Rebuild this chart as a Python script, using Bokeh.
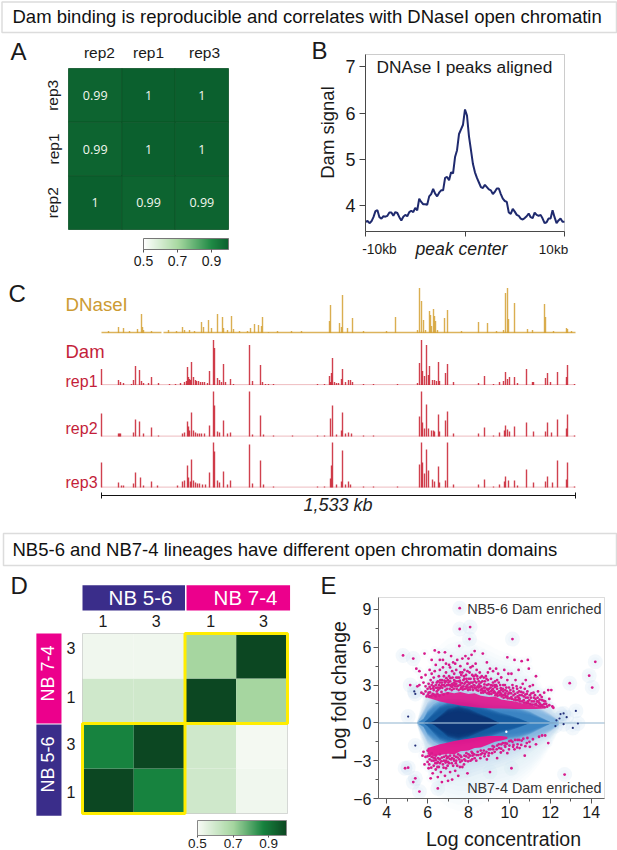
from bokeh.plotting import figure
from bokeh.layouts import column, row
from bokeh.models import (Label, BoxAnnotation, ColorBar, LinearColorMapper, FixedTicker,
                          Range1d, ColumnDataSource)
from bokeh.core.properties import value
from bokeh.embed import file_html
from bokeh.resources import INLINE

FONT = "Liberation Sans"

# ---------- texts ----------
title_top = "Dam binding is reproducible and correlates with DNaseI open chromatin"
title_bottom = "NB5-6 and NB7-4 lineages have different open chromatin domains"

# ---------- panel A ----------
a_cols = ["rep2", "rep1", "rep3"]
a_rows = ["rep2", "rep1", "rep3"]
a_rep3 = [0.99, 1, 1]
a_rep1 = [0.99, 1, 1]
a_rep2 = [1, 0.99, 0.99]
a_labels_rep3 = ["0.99", "1", "1"]
a_labels_rep1 = ["0.99", "1", "1"]
a_labels_rep2 = ["1", "0.99", "0.99"]

# ---------- panel B ----------
b_x = [-10, -9.8, -9.6, -9.4, -9.2, -9, -8.8, -8.6, -8.4, -8.2, -8, -7.8, -7.6, -7.4, -7.2, -7, -6.8, -6.6, -6.4, -6.2,
       -6, -5.8, -5.6, -5.4, -5.2, -5, -4.8, -4.6, -4.4, -4.2, -4, -3.8, -3.6, -3.4, -3.2, -3, -2.8, -2.6, -2.4, -2.2,
       -2, -1.8, -1.6, -1.4, -1.2, -1, -0.8, -0.6, -0.4, -0.2, 0, 0.2, 0.4, 0.6, 0.8, 1, 1.2, 1.4, 1.6, 1.8,
       2, 2.2, 2.4, 2.6, 2.8, 3, 3.2, 3.4, 3.6, 3.8, 4, 4.2, 4.4, 4.6, 4.8, 5, 5.2, 5.4, 5.6, 5.8,
       6, 6.2, 6.4, 6.6, 6.8, 7, 7.2, 7.4, 7.6, 7.8, 8, 8.2, 8.4, 8.6, 8.8, 9, 9.2, 9.4, 9.6, 9.8, 10]
b_y = [3.65, 3.67, 3.62, 3.66, 3.75, 3.88, 3.9, 3.75, 3.72, 3.77, 3.76, 3.78, 3.85, 3.85, 3.78, 3.86, 3.84, 3.75, 3.68, 3.76,
       3.8, 3.77, 3.86, 3.89, 3.86, 3.95, 3.9, 4.15, 4.08, 4.03, 4.03, 4.02, 4.2, 4.25, 4.36, 4.26, 4.2, 4.28, 4.33, 4.33,
       4.6, 4.62, 4.55, 4.72, 4.7, 5.05, 5.2, 5.55, 5.65, 5.75, 6.08, 5.95, 5.5, 5.2, 4.9, 4.72, 4.6, 4.5, 4.4, 4.38,
       4.45, 4.4, 4.35, 4.33, 4.25, 4.3, 4.37, 4.37, 4.25, 4.15, 4.1, 4.08, 3.85, 3.82, 3.93, 3.87, 3.8, 3.78, 3.72, 3.7,
       3.73, 3.77, 3.83, 3.75, 3.73, 3.85, 3.8, 3.78, 3.8, 3.72, 3.62, 3.64, 3.72, 3.72, 3.9, 3.75, 3.62, 3.68, 3.72, 3.65, 3.65]
b_yticks = [4, 5, 6, 7]
b_xticks = [-10, 0, 10]

# ---------- panel C: bin position along the 1,533 kb locus, signal height ----------
c_dnase_pos = [7, 17, 22, 28, 36, 40, 41, 42, 50, 67, 75, 81, 83, 88, 93, 100, 102, 107, 110, 116, 121, 122, 126, 130, 132, 138, 146, 149, 153, 157, 160, 161, 167, 176, 190, 200,
               228, 229, 238, 240, 241, 246, 251, 262, 285, 294, 316, 318, 320, 322, 324, 328, 329, 330, 332, 333, 334, 336, 343, 346, 360, 377, 386, 395,
               402, 404, 406, 407, 413, 426, 431, 443, 444, 452, 465, 466, 470]
c_dnase_h = [2, 6, 5, 2, 4, 19, 6, 3, 2, 3, 2, 6, 3, 3, 2, 11, 6, 13, 5, 19, 16, 5, 3, 17, 4, 2, 2, 5, 9, 8, 7, 16, 1, 2, 2, 2,
             12, 28, 10, 6, 38, 5, 15, 2, 2, 16, 3, 45, 32, 13, 3, 22, 18, 7, 24, 17, 12, 3, 15, 23, 2, 11, 10, 2,
             3, 40, 45, 14, 30, 4, 3, 29, 16, 2, 5, 4, 2]
c_rep1_pos = [0, 17, 19, 22, 30, 32, 34, 38, 40, 42, 47, 50, 57, 68, 74, 79, 83, 85, 86, 87, 88, 89, 90, 92, 94, 95, 97, 99, 101, 103, 106, 108, 112, 113, 116, 118, 120, 122, 124, 129, 132, 148, 151, 159, 161, 164, 167, 172,
              216, 223, 228, 229, 230, 231, 233, 235, 237, 240, 241, 244, 247, 249, 251, 262, 272, 296, 316, 318, 320, 321, 323, 325, 327, 328, 331, 333, 335, 337, 338, 344, 346, 352, 377, 383, 392, 398, 402, 404, 406, 408, 413, 416, 425, 431, 432, 444, 446, 449, 456, 465, 466, 473]
c_rep1_h = [16, 5, 3, 2, 1, 5, 19, 15, 4, 2, 2, 8, 2, 1, 1, 2, 3, 4, 18, 8, 6, 5, 23, 8, 5, 4, 4, 3, 3, 3, 2, 14, 45, 37, 7, 5, 3, 21, 3, 6, 1, 40, 4, 20, 3, 1, 1, 1,
            1, 1, 9, 3, 12, 27, 3, 2, 2, 6, 16, 3, 5, 5, 3, 1, 1, 1, 2, 22, 45, 14, 9, 40, 10, 19, 5, 5, 4, 23, 4, 12, 21, 3, 2, 9, 1, 3, 4, 13, 6, 8, 8, 2, 16, 3, 3, 7, 12, 3, 13, 8, 20, 1]
c_rep2_pos = [0, 17, 18, 19, 32, 34, 38, 42, 50, 57, 81, 83, 86, 87, 88, 90, 92, 94, 96, 98, 100, 103, 108, 112, 113, 116, 118, 122, 126, 129, 148, 151, 159, 162, 172, 191,
              216, 223, 229, 231, 235, 240, 241, 244, 247, 250, 262, 272, 318, 320, 321, 323, 325, 327, 330, 332, 333, 337, 338, 344, 346, 352, 377, 383, 392, 398, 403, 404, 406, 408, 413, 425, 432, 444, 446, 450, 456, 465, 466, 473]
c_rep2_h = [23, 3, 3, 3, 4, 17, 15, 3, 9, 1, 3, 4, 15, 10, 6, 24, 6, 4, 3, 3, 3, 3, 11, 45, 31, 5, 4, 16, 3, 4, 45, 2, 21, 2, 1, 1,
            1, 1, 18, 31, 2, 6, 24, 3, 4, 3, 1, 1, 20, 45, 14, 8, 32, 8, 6, 6, 5, 22, 5, 16, 25, 3, 3, 9, 1, 4, 6, 11, 7, 5, 10, 14, 5, 5, 14, 4, 17, 8, 22, 1]
c_rep3_pos = [0, 17, 20, 22, 32, 34, 39, 42, 50, 56, 76, 81, 83, 86, 87, 89, 90, 92, 94, 96, 98, 101, 104, 108, 112, 113, 116, 118, 122, 126, 129, 148, 151, 159, 162, 172,
              216, 223, 229, 230, 231, 235, 240, 241, 244, 247, 249, 262, 272, 296, 318, 320, 321, 323, 325, 327, 331, 333, 337, 338, 344, 346, 352, 377, 383, 392, 398, 403, 404, 407, 413, 416, 425, 432, 444, 446, 451, 456, 465, 466, 473]
c_rep3_h = [25, 5, 2, 2, 4, 15, 10, 2, 6, 2, 2, 6, 7, 22, 10, 6, 28, 7, 5, 4, 4, 3, 3, 15, 45, 36, 7, 5, 16, 3, 7, 43, 4, 27, 3, 1,
            1, 1, 9, 22, 45, 3, 6, 37, 3, 6, 3, 1, 1, 1, 23, 45, 25, 14, 38, 17, 8, 6, 21, 5, 7, 45, 3, 3, 8, 1, 3, 6, 11, 7, 7, 2, 18, 5, 6, 11, 5, 27, 8, 25, 1]
c_length_bins = 474
c_length_label = "1,533 kb"

# ---------- panel D ----------
d_row_1_a = [1.0, 0.87, 0.6, 0.52]    # NB 5-6 rep 1
d_row_3_a = [0.87, 1.0, 0.6, 0.51]    # NB 5-6 rep 3
d_row_1_b = [0.6, 0.6, 1.0, 0.7]      # NB 7-4 rep 1
d_row_3_b = [0.52, 0.52, 0.7, 1.0]    # NB 7-4 rep 3
d_tick_labels = ["1", "3", "1", "3"]

# ---------- panel E: points ----------
e_up = [(5.45,4.3),(5.6,4.1),(5.7,3.6),(5.8,3.2),(5.85,5.5),(5.9,2.9),(5.6,3.0),(5.7,2.4),(5.8,2.3),(5.95,2.1),(5.9,3.8),(5.5,2.9),
(6.1,4.2),(6.2,5.0),(6.3,3.6),(6.35,5.75),(6.05,3.1),(6.15,2.7),(6.25,2.3),(6.4,4.6),(6.45,3.2),(6.1,2.1),(6.3,2.9),(6.45,2.5),(6.2,3.9),(6.4,2.1),(6.05,2.4),(6.15,3.4),(6.35,4.1),(6.25,3.2),
(6.55,5.6),(6.6,4.2),(6.7,3.4),(6.75,5.0),(6.85,5.6),(6.9,4.0),(6.95,3.0),(6.55,3.7),(6.65,2.9),(6.8,3.7),(6.9,4.7),(6.6,5.0),(6.75,4.4),(6.85,3.2),(6.5,2.8),(6.95,2.7),(6.7,3.0),(6.6,3.2),(6.85,2.9),(6.55,3.0),
(7.05,3.7),(7.1,4.4),(7.15,5.3),(7.2,3.1),(7.3,3.9),(7.35,2.9),(7.4,4.2),(7.45,5.0),(7.5,3.3),(7.05,4.6),(7.25,4.8),(7.4,3.6),(7.1,3.3),(7.2,4.1),(7.3,3.4),(7.45,2.9),(7.0,3.0),(7.35,4.7),(7.15,2.9),(7.25,3.0),
(7.55,6.1),(7.6,4.5),(7.65,3.8),(7.7,5.1),(7.8,4.2),(7.85,5.3),(7.9,3.5),(7.95,4.7),(7.6,3.2),(7.75,2.9),(7.85,3.2),(7.55,3.6),(7.7,4.0),(7.9,2.9),(7.65,2.8),(7.8,3.5),(7.95,3.0),(7.75,3.4),(7.6,4.0),(7.95,4.1),
(8.0,5.1),(8.05,4.0),(8.1,3.5),(8.15,5.4),(8.2,4.5),(8.25,3.0),(8.3,5.7),(8.35,3.8),(8.4,4.2),(8.45,2.9),(8.05,3.1),(8.15,2.9),(8.3,3.3),(8.45,3.5),(8.1,4.4),(8.25,3.7),(8.4,2.8),(8.0,2.8),(8.35,4.7),(8.2,3.2),
(8.55,4.0),(8.6,3.2),(8.7,5.5),(8.75,3.6),(8.8,2.8),(8.9,4.8),(8.95,3.4),(8.55,2.9),(8.65,2.7),(8.8,3.3),(8.9,3.0),(8.65,3.7),(8.95,2.6),(8.75,2.8),(8.5,3.3),(8.85,3.7),(8.95,4.0),(8.6,2.6),
(9.05,4.3),(9.1,3.5),(9.15,2.6),(9.2,4.1),(9.3,3.3),(9.35,4.3),(9.4,2.7),(9.45,3.9),(9.0,2.7),(9.1,3.0),(9.25,2.5),(9.35,3.0),(9.45,2.4),(9.2,3.2),(9.4,3.4),(9.3,2.4),
(9.55,3.0),(9.6,3.6),(9.7,2.5),(9.75,4.2),(9.85,2.8),(9.9,5.2),(9.95,2.3),(9.6,2.3),(9.7,3.0),(9.8,2.6),(9.9,3.4),(9.55,2.4),(9.95,3.9),(9.8,2.2),
(10.05,2.6),(10.1,3.9),(10.2,2.2),(10.25,5.0),(10.3,3.4),(10.4,2.4),(10.45,4.2),(10.5,2.2),(10.6,4.9),(10.65,3.1),(10.7,2.1),(10.8,3.4),(10.85,2.3),(10.95,4.3),(10.15,3.0),(10.35,2.9),(10.55,2.8),(10.75,2.7),(10.9,2.0),(10.45,2.0),
(11.0,2.9),(11.05,2.0),(11.15,3.0),(11.25,2.2),(11.35,1.7),(11.4,2.5),(11.5,2.2),(11.6,1.8),(11.7,2.4),(11.8,1.5),(11.9,2.6),(11.95,1.9),(12.05,2.6),(12.1,1.3),(11.2,1.7),(11.45,1.6),(11.75,1.7),(10.9,5.0),(11.3,3.7),(12.15,1.2),
(5.9,2.5),(6.0,2.7),(6.1,2.85),(6.2,3.0),(6.3,2.6),(6.4,3.0),(6.5,3.3),(6.6,2.75),(6.7,3.2),(6.8,3.0),(6.9,3.3),(7.0,3.4),(7.1,3.0),(7.2,2.85),(7.3,3.2),(7.4,3.1),(7.5,2.95),(7.6,3.0),(7.7,2.85),(7.8,3.1),(7.9,2.75),(8.0,3.2),(8.1,2.85),(8.2,2.8),(8.3,2.95),(8.4,2.6),(8.5,2.8),(8.6,2.9),(8.7,2.55),(8.8,2.55),(8.9,2.7),(9.0,2.45),(9.1,2.5),(9.2,2.7),(9.3,2.85),(9.4,2.3),(9.5,2.5),(9.6,2.6),(9.7,2.2),(9.8,2.35),(9.9,2.1),(10.0,2.4),(10.1,2.05),(10.2,2.5),(10.3,2.0),(10.4,2.1),(10.5,1.9),(10.6,2.2),(10.7,1.8),(10.8,2.0),(10.9,1.7),(11.0,2.2),(11.1,1.7),(11.2,2.0),(11.3,1.5),(11.4,1.7),(11.5,1.5),(11.6,1.4),(11.7,1.5),(11.85,1.3),(11.95,1.4),
(6.02,2.25),(6.12,2.42),(6.18,2.12),(6.28,2.75),(6.34,2.2),(6.42,2.78),(6.48,2.3),(6.52,2.62),(6.58,2.15),(6.62,3.4),(6.68,2.45),(6.72,2.78),(6.78,2.25),(6.82,3.35),(6.88,2.6),(6.92,3.55),(6.98,2.35),(7.02,3.2),(7.08,2.7),(7.12,3.55),(7.18,2.6),(7.22,3.6),(7.28,2.7),(7.32,3.05),(7.38,3.3),(7.42,2.7),(7.48,3.6),(7.52,2.6),(7.58,3.35),(7.62,2.7),(7.68,3.15),(7.72,2.65),(7.78,3.7),(7.82,2.7),(7.88,3.8),(7.92,3.3),(7.98,2.6),(8.02,3.5),(8.08,2.65),(8.12,3.2),(8.18,3.8),(8.22,2.6),(8.28,3.5),(8.32,2.75),(8.38,3.2),(8.42,3.7),(8.48,2.55),(8.52,3.05),(8.58,3.6),(8.62,2.4),(8.68,3.3),(8.72,2.4),(8.78,3.05),(8.82,2.45),(8.88,3.5),(8.92,2.35),(8.98,3.05),(9.02,2.3),(9.08,2.8),(9.12,2.3),(9.18,2.95),(9.22,2.4),(9.28,3.0),(9.32,2.2),(9.38,2.9),(9.42,2.15),(9.48,3.2),(9.52,2.2),(9.58,2.75),(9.62,2.1),(9.68,2.7),(9.72,2.0),(9.78,3.0),(9.82,2.05),(9.88,2.5),(9.92,1.95),(9.98,2.8),(10.02,1.95),(10.08,2.35),(10.12,1.9),(10.18,2.75),(10.22,1.85),(10.28,2.3),(10.32,1.8),(10.38,2.7),(10.42,1.8),(10.48,2.5),(10.52,1.7),(10.58,2.45),(10.62,1.7),(10.68,2.4),(10.72,1.6),(10.78,2.25),(10.82,1.6),(10.88,2.5),(10.92,1.55),(10.98,1.8),(11.02,1.5),(11.08,2.35),(11.12,1.45),(11.18,2.4),(11.22,1.45),(11.28,1.9),(11.32,1.4),(11.38,2.0),(11.42,1.35),(11.48,1.85),(11.52,1.3),(11.58,2.05),(11.62,1.3),(11.68,1.75),(11.72,1.25)]
e_down = [(5.9,-2.7),(6.0,-3.1),(6.1,-2.6),(5.85,-3.3),(6.05,-3.6),(6.2,-3.0),(6.25,-4.0),(6.3,-3.4),(6.35,-2.8),(6.4,-3.7),(6.15,-4.4),(6.45,-3.2),(6.5,-4.3),(6.55,-3.5),(6.6,-2.9),(6.65,-3.9),
(6.7,-4.7),(6.75,-3.3),(6.8,-3.0),(6.85,-4.2),(6.9,-3.6),(6.95,-2.8),(7.0,-4.6),(7.05,-3.2),(7.1,-3.9),(7.15,-2.9),(7.2,-4.5),(7.25,-3.4),(7.3,-3.0),(7.35,-3.8),(7.4,-2.7),(7.45,-3.4),
(7.5,-4.2),(7.55,-2.9),(7.6,-3.1),(7.65,-2.7),(7.7,-3.5),(7.8,-2.6),(7.85,-3.0),(7.95,-4.0),(8.0,-2.5),(8.1,-3.0),(8.2,-2.4),(8.3,-2.8),(8.45,-2.3),(8.6,-2.5),(8.75,-2.2),(8.9,-2.9),
(9.0,-2.1),(9.15,-2.4),(9.25,-1.9),(9.4,-2.8),(9.5,-2.0),(9.6,-1.7),(9.7,-2.2),(9.8,-1.6),(9.9,-2.4),(10.0,-1.8),(10.15,-1.5),(10.25,-2.1),(10.4,-1.7),(10.5,-2.0),(10.6,-1.4),(10.75,-2.6),(10.85,-1.6),(11.0,-1.9),(11.15,-1.3),(11.3,-1.7),(11.45,-1.1),(11.6,-1.0),(11.75,-1.0),(11.9,-1.6),
(5.75,-2.6),(5.8,-2.3),(6.0,-2.2),(6.2,-2.4),(6.4,-2.6),(6.6,-2.5),(6.5,-2.8),(6.9,-2.6),(7.0,-2.7),(7.1,-2.6),(7.3,-2.6),(7.5,-2.5),(7.9,-2.4),(8.15,-2.3),
(6.0,-2.65),(6.1,-2.9),(6.2,-2.7),(6.3,-3.0),(6.4,-2.95),(6.5,-3.1),(6.6,-3.2),(6.7,-2.75),(6.8,-2.7),(6.9,-3.0),(7.0,-3.1),(7.2,-2.8),(7.4,-3.0),(7.6,-2.6),(7.8,-2.9),(8.0,-2.75),(8.2,-2.6),(8.4,-2.55),(8.6,-2.2),(8.8,-2.45),(9.0,-2.4),(9.2,-2.1),(9.4,-1.8),(9.6,-2.05),(9.8,-1.9),(10.0,-1.45),(10.2,-1.75),(10.4,-1.35),
(6.08,-3.3),(6.18,-3.55),(6.28,-2.75),(6.38,-3.2),(6.48,-3.5),(6.58,-2.85),(6.68,-3.05),(6.78,-3.55),(6.88,-3.15),(6.98,-3.4),(7.08,-2.85),(7.18,-3.2),(7.28,-2.85),(7.38,-3.2),(7.48,-2.75),(7.58,-3.5),(7.68,-3.0),(7.78,-3.3),(7.88,-2.65),(7.98,-3.05),(8.08,-2.6),(8.18,-2.9),(8.28,-2.5),(8.38,-3.0),(8.48,-2.55),(8.58,-2.8),(8.68,-2.4),(8.78,-2.65),(8.88,-2.3),(8.98,-2.6),(9.08,-2.1),(9.18,-1.85),(9.28,-2.3),(9.38,-2.1),(9.48,-1.7),(9.58,-2.35),(9.68,-1.6),(9.78,-1.8),(9.88,-1.65),(9.98,-2.1),(10.08,-1.4),(10.18,-1.9),(10.28,-1.35),(10.38,-1.95),(10.48,-1.35),(10.58,-1.75),(10.68,-1.25),(10.78,-1.85),(10.88,-1.2),(10.98,-1.5)]
e_outliers = [(7.57,9.1),(7.57,7.45),(8.08,7.6),(8.05,6.65),(10.15,6.65),(4.8,5.35),(5.3,5.1),(14.2,4.85),(13.9,3.75),(12.95,3.15),(14.05,2.8),
(9.05,-3.9),(10.1,-3.6),(12.7,-4.1),(5.6,-5.45),(4.9,-3.6),(5.05,-3.55),(6.5,-5.2),(5.4,-4.4),(5.3,-4.7),(5.15,3.0)]
e_navy = [(5.05,0.5),(5.4,-1.8),(5.35,2.5),(5.4,2.3),(12.3,0.2),(12.45,0.35),(12.5,0.7),(12.65,0.75),(12.8,0.45),(13.25,0.95),(12.25,-0.25),(12.65,-0.1),(13.1,-0.4),(13.35,-0.05)]
e_white = [(9.85,-0.7)]
# outlines of the saturated pink bands
e_band_up_x = [6.0, 6.3, 6.6, 7.0, 7.3, 7.6, 8.0, 8.3, 8.6, 9.0, 9.3, 9.6, 10.0, 10.3, 10.6, 11.0, 11.3, 11.6, 11.9]
e_band_up_low = [2.0, 1.85, 1.7, 1.55, 1.47, 1.38, 1.3, 1.25, 1.2, 1.17, 1.15, 1.14, 1.12, 1.11, 1.1, 1.1, 1.1, 1.12, 1.2]
e_band_up_high = [2.15, 2.35, 2.3, 2.45, 2.35, 2.45, 2.3, 2.35, 2.15, 2.05, 2.1, 1.85, 1.75, 1.7, 1.55, 1.45, 1.3, 1.25, 1.22]
e_band_dn_x = [6.0, 6.3, 6.6, 7.0, 7.3, 7.6, 8.0, 8.3, 8.6, 9.0, 9.3, 9.6, 9.9]
e_band_dn_low = [-2.0, -1.85, -1.7, -1.55, -1.43, -1.35, -1.25, -1.18, -1.1, -1.05, -1.05, -1.05, -1.1]
e_band_dn_high = [-2.5, -2.65, -2.55, -2.45, -2.5, -2.25, -2.2, -2.0, -1.95, -1.7, -1.5, -1.4, -1.25]
# contours of the smooth-scatter density: half-height per concentration column, pale to dark
e_cont_x = [5.5, 5.8, 6.0, 6.3, 6.6, 7.0, 7.5, 8.0, 8.5, 9.0, 9.5, 10.0, 10.5, 11.0, 11.5, 12.0, 12.4]
e_cont_1 = [0.2, 1.6, 2.8, 3.8, 4.4, 4.8, 5.0, 5.0, 4.7, 4.4, 4.1, 3.9, 3.5, 3.0, 2.3, 1.4, 0.5]
e_cont_2 = [0.1, 1.1, 1.9, 2.6, 3.0, 3.2, 3.2, 3.1, 2.9, 2.7, 2.5, 2.3, 2.0, 1.7, 1.3, 0.9, 0.3]
e_cont_3 = [0.03, 0.7, 1.15, 1.5, 1.75, 1.85, 1.85, 1.8, 1.7, 1.6, 1.45, 1.35, 1.25, 1.1, 0.85, 0.5, 0.15]
e_cont_4 = [0.0, 0.25, 0.7, 1.05, 1.25, 1.35, 1.35, 1.25, 1.15, 1.05, 1.0, 0.95, 0.85, 0.65, 0.35, 0.05, 0.0]
e_cont_5 = [0.0, 0.0, 0.2, 0.6, 0.95, 1.15, 1.2, 1.15, 1.0, 0.8, 0.6, 0.45, 0.25, 0.0, 0.0, 0.0, 0.0]
e_cont_6 = [0.0, 0.0, 0.0, 0.1, 0.4, 0.8, 0.95, 0.8, 0.55, 0.3, 0.0, 0.0, 0.0, 0.0, 0.0, 0.0, 0.0]


def ramp(stops, n=256):
    out = []
    last = len(stops) - 1
    for i in range(n):
        t = i / (n - 1)
        seg = next(k for k in range(last) if t <= stops[k + 1][0])
        a, ca = stops[seg]
        b, cb = stops[seg + 1]
        f = (t - a) / (b - a)
        rgb = [int(round(int(ca[j:j + 2], 16) * (1 - f) + int(cb[j:j + 2], 16) * f)) for j in (1, 3, 5)]
        out.append("#%02x%02x%02x" % tuple(rgb))
    return out


def panel(box, plot_px, xlim, ylim, axes=True, **kw):
    """A figure filling window box; data limits xlim/ylim fall on window px plot_px (the frame is the full figure)."""
    wx0, wy0, wx1, wy1 = box
    l, t, r, b = plot_px
    ux = (xlim[1] - xlim[0]) / (r - l)
    uy = (ylim[1] - ylim[0]) / (b - t)
    p = figure(width=wx1 - wx0, height=wy1 - wy0, output_backend="svg", toolbar_location=None, min_border=0,
               frame_align=False,
               x_range=Range1d(xlim[0] - (l - wx0) * ux, xlim[1] + (wx1 - r) * ux),
               y_range=Range1d(ylim[0] - (wy1 - b) * uy, ylim[1] + (t - wy0) * uy), **kw)
    p.grid.visible = False
    p.background_fill_color = None
    p.border_fill_color = None
    p.outline_line_color = None
    p.xaxis.visible = axes
    p.yaxis.visible = axes
    if axes:
        p.xaxis.fixed_location = ylim[1] if kw.get("x_axis_location") == "above" else ylim[0]
        p.yaxis.fixed_location = xlim[0]
        p.xaxis.bounds = xlim
        p.yaxis.bounds = ylim
    return p


def put(p, box, text, wx, wy, size, color="#1a1a1a", align="left", angle=0, style="normal", font=FONT):
    p.add_layout(Label(x=wx - box[0], y=box[3] - wy, x_units="screen", y_units="screen", text=text,
                       text_font=font, text_font_size=f"{size}px", text_color=color, text_align=align,
                       text_baseline="middle", angle=angle, angle_units="deg", text_font_style=style))


def header(text, wy0, wy1, box_top, box_bottom, box_right, text_y, size):
    box = (0, wy0, 617, wy1)
    p = panel(box, (0, wy0, 617, wy1), (0, 1), (0, 1), axes=False)
    left = 1.5 if wy0 == 0 else 3
    p.add_layout(BoxAnnotation(left=left, right=box_right, top=wy1 - box_top, bottom=wy1 - box_bottom,
                               left_units="screen", right_units="screen", top_units="screen", bottom_units="screen",
                               fill_color=None, line_color="#8a8a8a", line_width=1.5))
    put(p, box, text, 12, text_y, size, color="#111111")
    return p


def style_axis(ax, size, color="#444444", decor=True, standoff=3):
    ax.major_label_text_font = FONT
    ax.major_label_text_font_size = f"{size}px"
    ax.major_label_text_color = "#1a1a1a"
    ax.major_label_standoff = standoff
    ax.axis_line_color = color if decor else None
    ax.major_tick_line_color = color if decor else None
    ax.minor_tick_line_color = None
    ax.major_tick_in = 0
    ax.major_tick_out = 5


# ---------- headers ----------
h1 = header(title_top, 0, 38, 1.5, 32, 616, 15.5, 18.5)
h2 = header(title_bottom, 520, 572, 533, 565, 616, 549, 18.5)

# ---------- A ----------
a_palette = ramp([(0, "#ffffff"), (0.4, "#a9d9a2"), (0.8, "#1f8a45"), (1, "#0b602e")])
a_map = LinearColorMapper(palette=a_palette, low=0.5, high=1)
boxA = (0, 38, 300, 280)
A = panel(boxA, (68, 68, 228, 229), (0, 3), (0, 3), x_axis_location="above")
a_src = ColumnDataSource(dict(
    x=[0.5, 1.5, 2.5] * 3,
    y=[a_rows.index("rep3") + 0.5] * 3 + [a_rows.index("rep1") + 0.5] * 3 + [a_rows.index("rep2") + 0.5] * 3,
    v=a_rep3 + a_rep1 + a_rep2,
    t=a_labels_rep3 + a_labels_rep1 + a_labels_rep2))
A.rect("x", "y", width=1, height=1, source=a_src, fill_color={"field": "v", "transform": a_map},
       line_color="#0a5025", line_width=0.8)
A.text("x", "y", text="t", source=a_src, text_color="#f2f7ee", text_font=value("Open Sans"), text_font_size="12.5px",
       text_align="center", text_baseline="middle")
a_xt, a_yt = [0.58, 1.5, 2.55], [0.5, 1.5, 2.5]
A.xaxis[0].ticker = FixedTicker(ticks=a_xt)
A.xaxis[0].major_label_overrides = dict(zip(a_xt, a_cols))
A.yaxis[0].ticker = FixedTicker(ticks=a_yt)
A.yaxis[0].major_label_overrides = dict(zip(a_yt, a_rows))
style_axis(A.xaxis[0], 15.5, decor=False, standoff=3)
style_axis(A.yaxis[0], 15.5, decor=False, standoff=2)
A.yaxis[0].major_label_orientation = "vertical"
put(A, boxA, "A", 10, 51, 24)
A.add_layout(ColorBar(color_mapper=a_map, width=85, height=11, orientation="horizontal", location=(143, 12),
                      padding=0, margin=0, ticker=FixedTicker(ticks=[0.5, 0.7, 0.9]), major_label_text_font=FONT,
                      major_label_text_font_size="14px", major_label_text_color="#1a1a1a", major_tick_in=0,
                      major_tick_out=3, major_tick_line_color="#555555", bar_line_color="#777777",
                      label_standoff=3, background_fill_color=None, border_line_color=None), "center")

# ---------- B ----------
boxB = (300, 38, 617, 280)
B = panel(boxB, (365, 54, 564, 231), (-10, 10), (3.44, 7.27))
B.line(b_x, b_y, line_color="#1f2a6e", line_width=2)
B.add_layout(BoxAnnotation(left=-10, right=10, bottom=3.44, top=7.27, fill_color=None, line_color="#555555", line_width=1))
B.yaxis[0].ticker = FixedTicker(ticks=b_yticks)
B.xaxis[0].ticker = FixedTicker(ticks=b_xticks)
B.xaxis[0].major_label_overrides = {-10: "", 0: "", 10: ""}
style_axis(B.xaxis[0], 12)
style_axis(B.yaxis[0], 18, standoff=4)
B.yaxis[0].major_tick_out = 6
put(B, boxB, "B", 311, 50, 24)
put(B, boxB, "Dam signal", 327, 132, 18.5, align="center", angle=90)
put(B, boxB, "DNAse I peaks aligned", 376, 66, 17.3)
put(B, boxB, "peak center", 461, 248, 17.6, align="center", style="italic")
put(B, boxB, "-10kb", 379, 249, 13.8, align="center")
put(B, boxB, "10kb", 553, 249, 13.5, align="center")

# ---------- C ----------
boxC = (0, 280, 617, 520)
C = panel(boxC, (0, 280, 617, 520), (-101, 516), (0, 240), axes=False)
GOLD, RED = "#d3a033", "#c8202f"
tracks = [("dnase", 332.5, c_dnase_pos, c_dnase_h, GOLD, [0, 62], [60, c_length_bins]),
          ("rep1", 384.5, c_rep1_pos, c_rep1_h, RED, [0], [c_length_bins]),
          ("rep2", 436, c_rep2_pos, c_rep2_h, RED, [0], [c_length_bins]),
          ("rep3", 487, c_rep3_pos, c_rep3_h, RED, [0], [c_length_bins])]
for name, base, pos, hts, col, run0, run1 in tracks:
    C.extra_y_ranges[name] = Range1d(-(520 - base), base - 280)
    C.segment(x0=run0, y0=[0.4] * len(run0), x1=run1, y1=[0.4] * len(run0), line_color=col,
              line_width=1.5 if name == "dnase" else 1, line_alpha=0.8 if name == "dnase" else 0.3, y_range_name=name)
    C.vbar(x=pos, top=hts, bottom=0, width=1.4, fill_color=col, line_color=None, fill_alpha=0.85, y_range_name=name)
C.segment(x0=[0], y0=[25], x1=[c_length_bins], y1=[25], line_color="#111111", line_width=1)
C.segment(x0=[0, c_length_bins], y0=[22, 22], x1=[0, c_length_bins], y1=[28, 28], line_color="#111111", line_width=1)
put(C, boxC, "C", 8, 293, 24)
put(C, boxC, "DNaseI", 65, 304, 18.7, color="#cc9b33")
put(C, boxC, "Dam", 65, 351, 18.5, color="#c41e3a")
put(C, boxC, "rep1", 65, 381, 16, color="#c41e3a")
put(C, boxC, "rep2", 65, 428, 16, color="#c41e3a")
put(C, boxC, "rep3", 65, 482, 16, color="#c41e3a")
put(C, boxC, c_length_label, 303, 504, 18, color="#222222", style="italic")

# ---------- D ----------
d_palette = ramp([(0, "#f8fbf6"), (0.4, "#a6d6a0"), (0.74, "#17833f"), (1, "#0c4722")])
d_map = LinearColorMapper(palette=d_palette, low=0.5, high=1)
boxD = (0, 572, 304, 850)
D = panel(boxD, (82, 633, 287, 813), (0, 4), (0, 4), x_axis_location="above")
d_vals = d_row_1_a + d_row_3_a + d_row_1_b + d_row_3_b
d_src = ColumnDataSource(dict(x=[0.5, 1.5, 2.5, 3.5] * 4,
                              y=[0.5] * 4 + [1.5] * 4 + [2.5] * 4 + [3.5] * 4, v=d_vals))
D.rect("x", "y", width=1, height=1, source=d_src, fill_color={"field": "v", "transform": d_map}, line_color=None)
D.add_layout(BoxAnnotation(left=0, right=4, bottom=0, top=4, fill_color=None, line_color="#888888", line_width=1))
d_xt, d_yt = [0.4, 1.44, 2.5, 3.53], [0.47, 1.55, 2.6, 3.67]
D.xaxis[0].ticker = FixedTicker(ticks=d_xt)
D.xaxis[0].major_label_overrides = dict(zip(d_xt, d_tick_labels))
D.yaxis[0].ticker = FixedTicker(ticks=d_yt)
D.yaxis[0].major_label_overrides = dict(zip(d_yt, d_tick_labels))
for ax in (D.xaxis[0], D.yaxis[0]):
    style_axis(ax, 16, decor=False, standoff=2)
    ax.major_label_orientation = "horizontal"
YEL = "#ffed00"
for l, r, b, t in [(2, 4, 2, 4), (0, 2, 0, 2)]:
    D.add_layout(BoxAnnotation(left=l, right=r, bottom=b, top=t, fill_color=None, line_color=YEL, line_width=3,
                               line_alpha=1))
PUR, PNK = "#3a2d8a", "#ec008c"
D.add_layout(BoxAnnotation(left=0, right=2, bottom=4.51, top=5.07, fill_color=PUR, fill_alpha=1, line_color=None))
D.add_layout(BoxAnnotation(left=2.03, right=4.05, bottom=4.51, top=5.07, fill_color=PNK, fill_alpha=1, line_color=None))
D.add_layout(BoxAnnotation(left=-0.9, right=-0.41, bottom=2.0, top=4, fill_color=PNK, fill_alpha=1, line_color=None))
D.add_layout(BoxAnnotation(left=-0.9, right=-0.41, bottom=-0.05, top=1.98, fill_color=PUR, fill_alpha=1, line_color=None))
put(D, boxD, "D", 10, 585, 24)
put(D, boxD, "NB 5-6", 140, 597, 20.5, color="white", align="center")
put(D, boxD, "NB 7-4", 245, 597, 20.5, color="white", align="center")
put(D, boxD, "NB 7-4", 47, 673, 18, color="white", align="center", angle=90)
put(D, boxD, "NB 5-6", 47, 764, 18, color="white", align="center", angle=90)
D.add_layout(ColorBar(color_mapper=d_map, width=89, height=15, orientation="horizontal", location=(197, 0),
                      padding=0, margin=0, ticker=FixedTicker(ticks=[0.5, 0.7, 0.9]), major_label_text_font=FONT,
                      major_label_text_font_size="13.5px", major_label_text_color="#1a1a1a", major_tick_in=0,
                      major_tick_out=2, major_tick_line_color="#555555", bar_line_color="#888888",
                      label_standoff=1, background_fill_color=None, border_line_color=None), "center")

# ---------- E ----------
boxE = (304, 572, 617, 850)
E = panel(boxE, (378, 597, 604, 798), (3.6, 14.65), (-6, 9.95))
all_points = e_up + e_down + e_outliers + e_navy
E.scatter([q[0] for q in e_outliers + e_navy], [q[1] for q in e_outliers + e_navy], size=15, color="#9cc4e6", alpha=0.12, line_color=None)
E.scatter([q[0] for q in all_points], [q[1] for q in all_points], size=9, color="#a8cbe8", alpha=0.06, line_color=None)
for cont, col, a in [(e_cont_1, "#dbe9f5", 0.1), (e_cont_2, "#bcd7ee", 0.12), (e_cont_3, "#7db3df", 0.22),
                     (e_cont_4, "#3580c2", 0.28), (e_cont_5, "#15589f", 0.3), (e_cont_6, "#0c3476", 0.34)]:
    for s in (1.4, 1.3, 1.22, 1.15, 1.08, 1.0, 0.93, 0.86):
        E.varea(e_cont_x, [-s * h for h in cont], [s * h for h in cont], fill_color=col, fill_alpha=a)
E.varea(e_band_up_x, e_band_up_low, e_band_up_high, fill_color="#e6148c", fill_alpha=0.9)
E.varea(e_band_dn_x, e_band_dn_low, e_band_dn_high, fill_color="#e6148c", fill_alpha=0.95)
E.segment(x0=[3.6], y0=[0], x1=[14.65], y1=[0], line_color="#a3c0d8", line_width=1.5, line_alpha=0.8)
pink = e_up + e_down + e_outliers
E.scatter([q[0] for q in pink], [q[1] for q in pink], size=2.8, color="#d81b8c", line_color=None)
E.scatter([q[0] for q in e_navy], [q[1] for q in e_navy], size=2.2, color="#23307a", line_color=None)
E.scatter([q[0] for q in e_white], [q[1] for q in e_white], size=2.4, color="#ffffff", line_color=None)
E.add_layout(BoxAnnotation(left=3.6, right=14.65, bottom=-6, top=9.95, fill_color=None, line_color="#8a8a8a", line_width=1))
E.xaxis[0].ticker = FixedTicker(ticks=[4, 6, 8, 10, 12, 14], minor_ticks=[5, 7, 9, 11, 13])
E.yaxis[0].ticker = FixedTicker(ticks=[-6, -3, 0, 3, 6, 9], minor_ticks=[-4.5, -1.5, 1.5, 4.5, 7.5])
for ax in (E.xaxis[0], E.yaxis[0]):
    style_axis(ax, 16, color="#555555", standoff=2)
    ax.minor_tick_line_color = "#555555"
    ax.minor_tick_in = 0
    ax.minor_tick_out = 3
put(E, boxE, "E", 320, 585, 24)
put(E, boxE, "NB5-6 Dam enriched", 601, 608, 14.4, color="#333333", align="right")
put(E, boxE, "NB7-4 Dam enriched", 601, 787, 14.4, color="#333333", align="right")
put(E, boxE, "Log fold change", 338, 690, 19.5, align="center", angle=90)
put(E, boxE, "Log concentration", 503, 838, 19.5, align="center")

page = column(h1, row(A, B, spacing=0), C, h2, row(D, E, spacing=0), spacing=0)
open("out.html", "w").write(file_html(page, INLINE))
